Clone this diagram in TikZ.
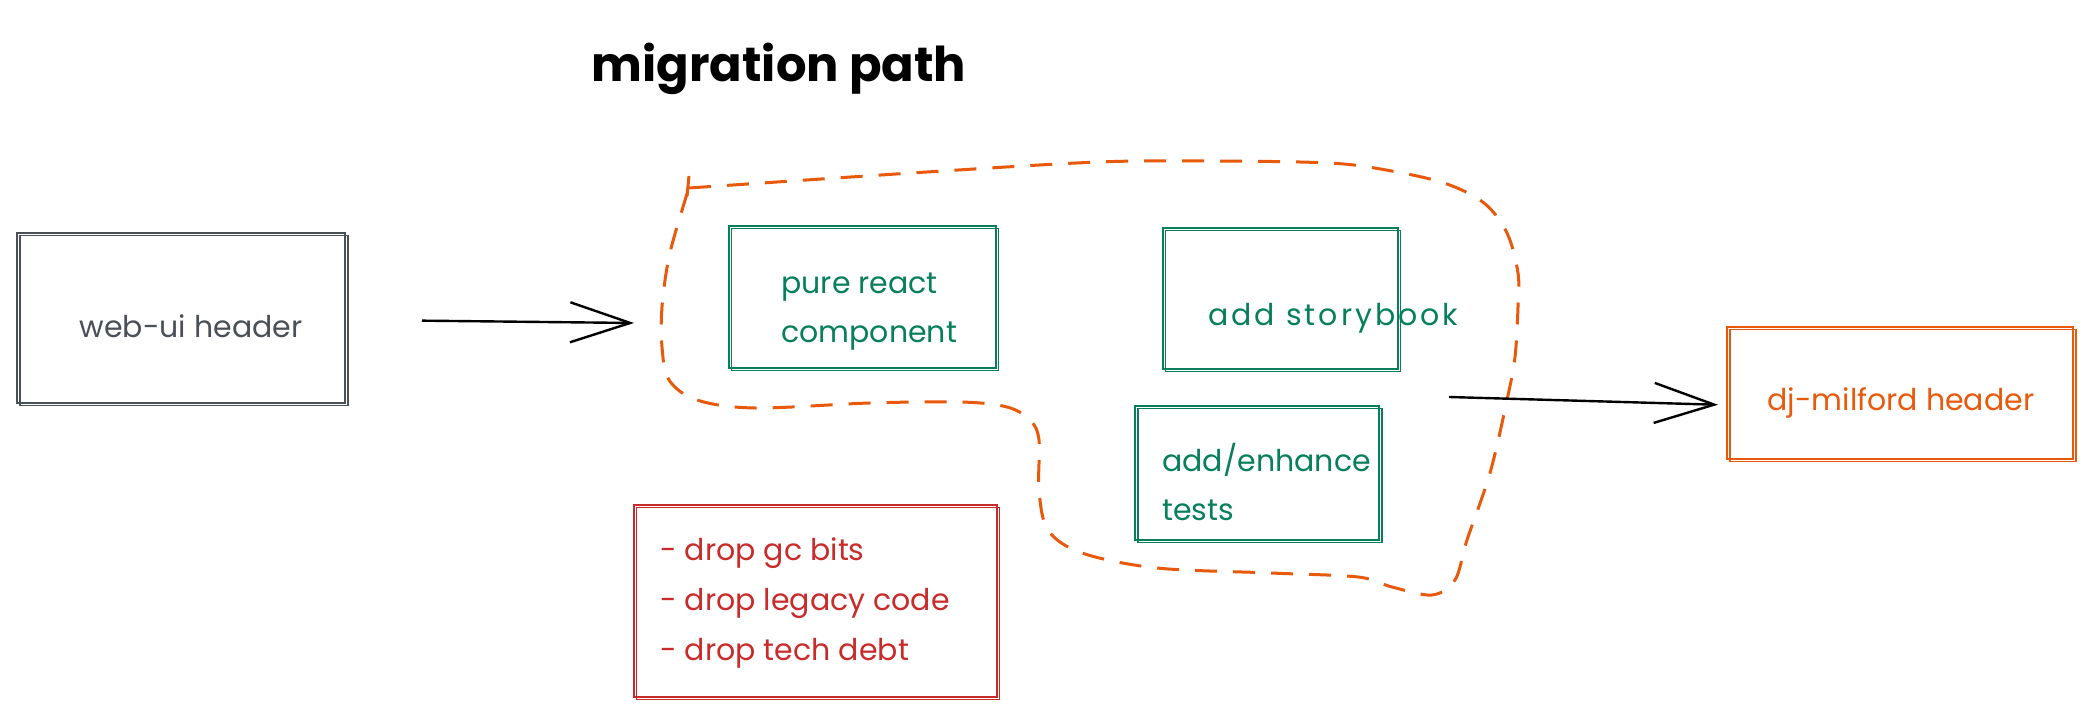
\documentclass[tikz,border=0pt]{standalone}
\usepackage{fontspec}
\setmainfont{Poppins}
\usetikzlibrary{arrows.meta}

\definecolor{sketchgray}{HTML}{495057}
\definecolor{sketchgreen}{HTML}{087F5B}
\definecolor{sketchorange}{HTML}{E8590C}
\definecolor{sketchred}{HTML}{C92A2A}

\begin{document}
\begin{tikzpicture}[
    x=0.5pt, y=-0.5pt,
    sketchbox/.style={draw, line width=1pt, inner sep=0pt,
        postaction={draw, line width=0.6pt, transform canvas={shift={(1.5pt,-1.2pt)}}}},
    graybox/.style={sketchbox, draw=sketchgray},
    greenbox/.style={sketchbox, draw=sketchgreen},
    redbox/.style={sketchbox, draw=sketchred},
    orangebox/.style={sketchbox, draw=sketchorange},
    txt/.style={font=\fontsize{15pt}{24.5pt}\selectfont, align=left, inner sep=0pt},
    arrow/.style={-{Straight Barb[length=30pt, width=20pt]}, line width=1.2pt},
    blob/.style={draw=sketchorange, line width=1.5pt, dash pattern=on 11pt off 8pt, line join=round}
]
\useasboundingbox (0,0) rectangle (2090,716);

% ===== Title =====
\node[font=\fontsize{24pt}{30pt}\selectfont\bfseries] (title) at (779,69) {migration path};

% ===== Old header =====
\node[graybox, minimum width=164pt, minimum height=85pt] (webui) at (181,318) {};
\node[txt, text=sketchgray] (webuitext) at (191,326) {web-ui header};

% ===== Migration steps =====
\node[greenbox, minimum width=133.5pt, minimum height=71pt] (react) at (862,297) {};
\node[txt, text=sketchgreen, anchor=west] (reacttext) at (781,312) {pure react\\component};

\node[greenbox, minimum width=117.5pt, minimum height=70.5pt] (story) at (1280,299) {};
\node[txt, text=sketchgreen, anchor=west] (storytext) at (1208,318)
    {\addfontfeature{LetterSpace=10}add storybook};

\node[greenbox, minimum width=122pt, minimum height=67pt] (tests) at (1257,473) {};
\node[txt, text=sketchgreen, anchor=west] (teststext) at (1162,482) {add/enhance\\tests};

% ===== Cleanup =====
\node[redbox, minimum width=181.5pt, minimum height=96pt] (drop) at (815,601) {};
\node[txt, text=sketchred, anchor=west, font=\fontsize{15pt}{25pt}\selectfont] (droptext) at (660,603)
    {- drop gc bits\\- drop legacy code\\- drop tech debt};

% ===== New header =====
\node[orangebox, minimum width=173pt, minimum height=66pt] (djm) at (1900,393) {};
\node[txt, text=sketchorange] (djmtext) at (1901,403) {dj-milford header};

% ===== Dashed migration outline =====
\draw[blob] plot[smooth, tension=0.55] coordinates {
    (689,188) (927,172) (1099,162) (1214,161) (1329,163) (1386,170) (1444,183)
    (1484,203) (1507,233) (1518,273) (1518,307) (1515,357) (1507,400) (1490,473)
    (1467,540) (1455,580) (1432,595) (1392,587) (1358,577) (1271,573) (1157,568)
    (1082,553) (1048,530) (1039,490) (1039,440) (1030,420) (1007,407) (961,402)
    (870,403) (755,408) (697,400) (669,380) (662,347) (662,307) (669,257)
    (683,207) (689,188)};
\draw[sketchorange, line width=1.5pt] (689,176) -- (687,196);

% ===== Arrows =====
\coordinate (pathin) at (634,323);
\coordinate (pathout) at (1449,397);
\draw[arrow, shorten <=38pt] (webui) -- (pathin);
\draw[arrow, shorten >=4pt] (pathout) -- ([yshift=-6pt]djm.west);

\end{tikzpicture}
\end{document}
